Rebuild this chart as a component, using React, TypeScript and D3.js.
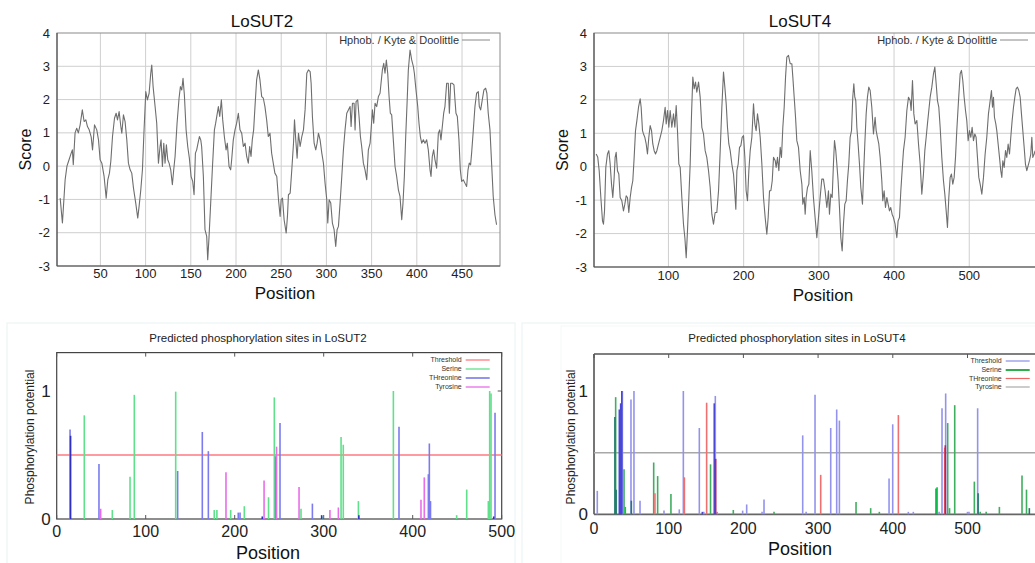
import React from 'react';
import * as d3 from 'd3';

const FONT = '"Liberation Sans", Arial, Helvetica, sans-serif';

// ---------------- Hydrophobicity (Kyte & Doolittle) profiles ----------------
const sut2Hydro: [number, number][] = [
  [5.5,-0.96],[8,-1.71],[11,-0.41],[13,0],[14.7,0.14],[17.7,0.39],[19,0.49],[20,0.04],[22,1.0],[23.8,1.14],[25.6,1.0],[27.6,1.24],[30,1.69],[32,1.34],[33.9,1.39],[35.7,1.19],[37.6,1.09],[39.8,0.88],[41.3,0.49],[43.5,1.24],[46,1.09],[47.9,0.79],[49.7,0.19],[51.6,0.09],[54.1,-0.31],[56.4,-0.96],[58.2,-0.41],[60,-0.21],[61.5,0.14],[63.4,0.89],[65.6,1.44],[67.4,1.59],[68.9,1.39],[70.7,1.64],[72.6,1.19],[73.7,0.99],[75.5,1.54],[77.3,1.34],[79.2,0.79],[81,0.09],[82.9,-0.11],[84.7,-0.21],[86.6,-0.66],[89.1,-1.11],[91.3,-1.56],[92.8,-1.21],[94.7,-0.71],[96.5,-0.11],[98.3,1.09],[100.2,2.24],[102,1.99],[103.9,2.19],[105.7,2.79],[106.8,3.04],[108.3,2.39],[110.5,1.79],[112.3,1.29],[114.2,0.09],[116,0.59],[117.1,0.79],[118.6,-0.01],[120.1,0.69],[121.5,0.09],[123,0.64],[124.5,0.19],[126,0.09],[127.8,-0.11],[129.6,-0.56],[131.1,-0.11],[132.6,0.29],[134.8,1.29],[137,2.04],[138.5,2.39],[140,2.29],[141.4,2.64],[142.9,2.14],[144.8,1.09],[146.6,0.59],[148.4,0.24],[150.3,-0.31],[152.1,-0.46],[153.6,-0.86],[155.1,0.39],[156.5,0.49],[157.6,0.64],[159.5,0.89],[161,0.79],[162,0.59],[163.9,-0.31],[165.7,-1.91],[167.6,-2.11],[168.7,-2.81],[170.2,-2.11],[172,-1.11],[173.8,-0.11],[176.1,1.09],[177.5,1.29],[179,1.54],[180.5,1.79],[182,1.49],[183.8,1.99],[185.3,1.39],[187.1,0.89],[189,0.49],[190.4,0.69],[192.3,-0.01],[194.1,-0.11],[195.2,0.19],[197,0.79],[198.9,1.09],[200.7,1.29],[202.6,1.59],[204.4,1.09],[206.3,0.99],[208.1,0.59],[210,0.69],[211.8,0.29],[213.6,0.09],[215.1,0.59],[216.6,0.29],[218,0.79],[219.5,1.09],[221,1.79],[222.8,2.59],[224.7,2.89],[226.5,2.59],[228.4,2.09],[230.2,2.04],[232,1.79],[233.9,1.39],[235.7,0.89],[237.6,0.99],[239.4,0.39],[241.2,0.09],[243,-0.21],
  [245.1,-0.31],[247,-1.01],[248.8,-1.51],[249.9,-1.01],[251.4,-0.96],[253.2,-1.61],[255.5,-2.01],[256.9,-1.51],[258,-0.86],[259.9,-0.81],[261.7,-0.11],[263.6,0.69],[264.7,1.39],[266.1,0.79],[267.6,0.24],[269.1,0.99],[270.9,0.59],[272.8,0.89],[274.6,1.09],[276.4,1.69],[278.3,2.79],[280.1,2.89],[282,2.84],[283.1,2.49],[284.5,1.49],[286.4,0.69],[288.2,0.49],[289.7,0.69],[291.2,0.99],[293,0.79],[294.9,0.39],[296.7,0.09],[298.5,-0.51],[300.4,-1.01],[301.5,-1.71],[303,-1.01],[304.8,-1.11],[306.6,-1.71],[308.5,-1.91],[310.3,-2.41],[311.8,-1.91],[313.3,-1.81],[315.1,-1.11],[317,-0.31],[318.8,0.49],[320.6,1.09],[322.5,1.59],[324.3,1.69],[326.2,1.79],[327.3,1.19],[328.8,1.89],[330.6,1.89],[331.7,1.09],[332.8,1.94],[334.6,1.99],[336.1,1.49],[337.6,0.89],[339,0.59],[340.9,0.09],[342.7,-0.11],[344.6,-0.41],[346.4,0.49],[348.3,0.69],[349.4,1.09],[350.9,1.69],[352.3,1.29],[353.8,1.89],[355.6,1.79],[357.5,2.09],[359.3,2.19],[360.4,2.49],[361.9,2.89],[363.4,3.09],[364.8,2.79],[366.3,3.19],[367.8,2.79],[369.3,2.09],[370.7,1.59],[372.2,1.54],[374,0.79],[375.9,-0.01],[377.7,-0.31],[379.6,-0.71],[381.4,-0.91],[383.3,-1.61],[384.7,-1.11],[386.2,-0.31],[387.7,0.89],[389.2,1.89],[390.6,2.89],[392.5,3.49],[394.3,3.19],[396.2,2.99],[397.3,2.79],[398.7,2.39],[401,1.79],[402.4,1.29],[403.9,0.89],[405.4,0.69],[407.2,0.79],[409,0.69],[410.9,0.79],[412.7,0.49],[414.6,-0.11],[415.7,-0.31],[417.1,0.29],[418.6,0.49],[420.1,0.19],[421.9,-0.06],[423.8,0.99],[425.3,1.09],[426.7,0.79],[428.2,1.19],[429.7,1.59],[431.1,1.79],[433,2.49],[434.8,2.49],[436,1.59],[437.4,2.49],[439.3,2.49],[441.1,2.44],[442.2,1.99],[443.3,1.59],[444.8,1.49],[446.6,0.79],[448.1,-0.11],[449.6,-0.46],[451.4,-0.41],[453.2,-0.51],[455.1,-0.61],[456.6,-0.11],[458,0.09],[459.5,0.04],[460.6,0.39],[462.5,1.09],[464.3,1.79],[466.1,2.19],[468,2.24],[469.1,1.79],[470.6,1.69],[472.4,1.99],[474.2,2.29],[476.1,2.34],[477.5,2.19],[479,1.59],[480.9,1.09],[482.7,0.09],[484.5,-0.91],[486.4,-1.46],[488.2,-1.76]
];

const sut4Hydro: [number, number][] = [
  [3.9,0.38],[6,0.28],[7.9,-0.12],[10.1,-0.92],[12.3,-1.62],[13.6,-1.72],[15,-1.32],[16.7,-0.02],[18.9,0.38],[20.7,0.48],[22.5,0.08],[24.3,-0.52],[26,-0.92],[27.8,-0.32],[29.1,0.28],[30.5,0.43],[32.2,-0.12],[34,-0.22],[35.8,-0.92],[38,-1.02],[40.2,-1.32],[42,-1.12],[43.8,-0.87],[45.5,-0.92],[47.3,-1.37],[49.1,-0.92],[50.9,-0.62],[52.6,-0.42],[54.4,0.28],[56.2,1.08],[58,1.38],[60.2,1.78],[62.4,2.03],[63.7,1.78],[65.5,1.08],[66.8,0.98],[68.6,0.88],[70.4,0.68],[72.1,0.38],[73.9,0.88],[75.7,1.23],[77.5,1.08],[79.2,0.68],[81,0.48],[82.8,0.38],[84.6,0.48],[86.8,0.68],[89,0.88],[91.2,1.08],[93.4,1.38],[95.6,1.78],[97,1.28],[98.7,1.68],[100.5,1.18],[102.3,1.68],[104.5,1.18],[106.7,1.58],[108.5,1.18],[110.3,1.83],[112,1.08],[113.8,0.08],[115.6,-0.02],[117.8,-0.92],[120,-1.72],[121.8,-2.12],[123.6,-2.72],[125.3,-1.92],[127.1,-0.92],[128.9,0.08],[130.7,1.58],[132.4,2.68],[134.2,2.33],[136,2.53],[137.7,2.23],[140,2.53],[142.2,2.08],[144.4,1.18],[146.6,0.98],[148.8,0.48],[151,0.28],[153.3,-0.12],[155.5,-0.62],[157.7,-1.42],[159.9,-1.72],[162.1,-1.37],[164.3,-1.37],[166.6,-0.72],[168.8,0.48],[171,1.78],[173.2,2.83],[175,2.38],[176.8,1.88],[178.5,1.18],[180.3,0.68],[182.1,0.48],[184.3,0.08],[186.5,-0.22],[187.8,-0.62],[189.6,-1.27],[191,-0.12],[192.7,0.08],[194.5,0.58],[196.3,0.63],[198,0.88],[199.8,0.93],[201.6,0.28],[203.3,-0.72],[205.1,-1.02],[206.9,-0.12],[208.7,0.48],[210.9,0.88],[213.1,1.88],[214.9,1.28],[216.6,1.08],[218.4,1.58],[220.2,1.28],[222,0.88],[224.2,0.08],[226.4,-0.92],[228.6,-1.52],[230.8,-2.02],[232.6,-1.52],[234.4,-0.72],[236.2,-0.72],[238,-0.42],[239.7,0.28],[242,0.18],[243.2,-0.02],[245,0.28],[246.8,-0.12],[248.6,0.58],[250.3,0.28],[252.1,1.18],[253.9,1.78],[255.7,2.68],[257.4,3.28],[259.6,3.33],[261.9,3.08],[264.1,3.08],[265.4,2.68],[267.2,2.08],[269,1.48],[270.7,0.78],[272.9,0.58],[275.2,-0.12],[277.4,-0.52],[278.7,-1.12],[280.5,-0.92],[281.8,-1.42],[283.1,-0.92],[284.9,-0.62],[286.7,-0.52],[288.5,0.48],
  [290.6,-0.12],[292.8,-0.92],[295,-1.52],[297.3,-2.12],[299.5,-1.52],[301.7,-0.92],[303.9,-0.37],[306.1,-0.37],[308.3,-0.72],[310.6,-1.22],[312.8,-0.72],[314.1,-1.42],[315.9,-0.82],[317.7,-0.92],[319.4,0.08],[320.8,0.78],[322.5,0.48],[323.9,0.08],[325.6,-0.42],[327.4,-1.22],[329.2,-2.12],[331,-2.52],[332.7,-1.72],[334.5,-1.12],[336.3,-1.02],[338,-0.42],[339.8,0.08],[341.6,0.88],[343.4,1.08],[345.1,2.08],[346.5,2.48],[347.8,2.08],[349.1,1.98],[350.5,1.18],[352.2,0.68],[354,0.08],[355.8,-0.62],[358,-1.12],[359.3,-0.32],[361.1,0.68],[362.9,1.58],[364.6,2.08],[366.4,2.38],[368.2,2.28],[370.4,1.78],[372.6,0.98],[374.8,1.48],[376.2,1.08],[377.9,0.88],[379.7,0.68],[381.5,0.28],[383.7,-0.42],[385,-1.02],[386.8,-0.72],[388.6,-1.22],[390.4,-0.92],[392.1,-1.12],[393.9,-1.32],[395.6,-1.22],[397.4,-1.42],[399.2,-1.52],[401.4,-1.72],[403.7,-2.12],[405.4,-1.62],[407.2,-1.52],[409,-0.72],[410.7,-0.12],[412.5,0.48],[414.7,0.88],[417,1.68],[419.2,2.08],[421.4,1.98],[422.7,1.68],[424.5,2.58],[426.3,1.58],[428,1.28],[430.3,1.38],[432.5,0.68],[434.7,0.08],[436.9,-0.82],[439.1,-0.22],[440.9,0.48],[442.7,0.88],[444.4,1.28],[446.2,1.68],[448,2.08],[450.2,2.38],[452.4,2.78],[454.2,2.98],[456,2.48],[457.7,1.98],[459.5,1.78],[461.3,1.18],[463.5,0.28],[465.7,-0.42],[467.5,-0.82],[469.3,-1.32],[471,-1.82],[472.8,-0.92],[474.6,-0.32],[476.3,-0.22],[478.1,-0.52],[479.9,-0.32],[481.7,0.28],[483.4,1.08],[485.7,1.98],[487.9,2.78],[489.6,2.88],[491.4,2.58],[493.2,2.08],[495,1.68],[496.7,1.38],[498.5,0.78],[500.3,1.08],[502.1,0.88],[503.8,1.18],[505.6,0.78],[507.4,0.98],[509.1,0.88],[510.9,0.28],[512.7,-0.32],[514.5,-0.52],[516.7,-0.82],[518.9,-0.32],[521.1,0.38],[523.3,0.88],[525.5,1.58],[527.8,1.98],[529.5,2.28],[530.9,1.78],[532.2,2.08],[533.5,1.48],[535.3,1.28],[536.6,1.08],[538.4,0.68],[540.2,0.28],[541.9,-0.12],[543.3,-0.32],[544.6,0.18],[546.4,-0.02],[548.2,0.48],[549.9,0.28],[551.7,0.68],[553.5,0.38],[555.2,0.88],[557,1.38],[558.8,1.78],[560.6,2.08],[562.3,2.33],[564.1,2.38],[565.9,2.28],[567.7,2.08],[569.4,1.58],[571.2,1.08],[573,0.58],[574.7,0.08],[576.5,-0.12],[578.3,0.03],[580.1,0.18],[581.8,0.38],[583.2,0.88],[584.5,0.28],[586.3,0.38],[587.6,0.48]
];

const hydroYTicks = [-3, -2, -1, 0, 1, 2, 3, 4];
const sut2HydroXTicks = [50, 100, 150, 200, 250, 300, 350, 400, 450];
const sut4HydroXTicks = [100, 200, 300, 400, 500];

// ---------------- Phosphorylation potentials (NetPhos) ----------------
const sut2Serine: [number, number][] = [
  [31,0.81],[62.5,0.07],[82.4,0.33],[87.2,0.97],[133.7,0.995],[177,0.07],[180,0.07],[195.5,0.07],[210.8,0.1],[238,0.17],[244.5,0.95],[274.5,0.08],[298,0.02],[319.5,0.64],[322,0.58],[339,0.14],[378.3,1.0],[449.4,0.03],[460.7,0.23],[485,0.14],[486.5,1.0],[488,0.98]
];
const sut2Threonine: [number, number][] = [
  [15,0.70],[47.5,0.43],[135.9,0.375],[163.6,0.68],[170.4,0.53],[204,0.05],[206,0.05],[246,0.49],[250.9,0.75],[287.3,0.12],[384.6,0.72],[417.6,0.35],[418.7,0.59],[420,0.14],[492.5,0.83]
];
const sut2ThreonineDark: [number, number][] = [
  [15.6,0.65],[231,0.02],[297.7,0.03],[339.5,0.03],[491,0.02]
];
const sut2Tyrosine: [number, number][] = [
  [49.4,0.08],[190.2,0.365],[233,0.3],[247,0.565],[272.3,0.25],[307,0.07],[316.5,0.09],[409.3,0.15],[413,0.325]
];
const sut2Threshold = 0.5;

const sut4Lavender: [number, number][] = [
  [4.4,0.19],[38,1.0],[49.5,0.93],[53.5,1.0],[61.6,0.11],[93.7,0.03],[114.2,0.04],[119.6,1.0],[141,0.70],[147,0.02],[162.4,0.96],[165,0.02],[199,0.03],[204.4,0.08],[225,0.02],[227.6,0.12],[279.4,0.64],[284,0.02],[295.9,0.97],[316.9,0.70],[324.9,0.85],[328.5,0.76],[395,0.29],[399.9,0.73],[420.8,0.02],[427.5,0.02],[462,0.02],[465.9,0.86],[470.8,0.98],[500,0.02],[502,0.02],[513.6,0.86]
];
const sut4DarkBlue: [number, number][] = [
  [33.9,0.85],[35.7,0.90],[37.2,1.0],[145,0.02],[161,0.90]
];
const sut4Green: [number, number][] = [
  [29,0.95],[40.2,0.365],[79.9,0.42],[85.2,0.31],[103,0.165],[156,0.405],[186.5,0.035],[241,0.02],[350.8,0.10],[370.4,0.05],[382,0.02],[473.5,0.74],[476,0.05],[482.9,0.885],[509.2,0.265],[517,0.02],[525,0.02],[542.7,0.06],[573,0.315],[579,0.20]
];
const sut4DarkTeal: [number, number][] = [
  [28,0.79],[29.6,0.20],[50,0.11],[458,0.21],[514.2,0.17],[582.8,0.05]
];
const sut4BrightGreen: [number, number][] = [
  [41.9,0.06],[459.3,0.22]
];
const sut4Red: [number, number][] = [
  [81.6,0.17],[121,0.30],[150.8,0.905],[303.5,0.32],[407.5,0.805],[469.5,0.54]
];
const sut4DarkRed: [number, number][] = [
  [162.9,0.45],[470.3,0.56]
];
const sut4Threshold = 0.5;

const phosXTicks = [0, 100, 200, 300, 400, 500];
const phosYTicks = [0, 1];

// ---------------- Components ----------------
type HydroProps = {
  data: [number, number][];
  title: string;
  xDomain: [number, number];
  xRange: [number, number];
  yRange: [number, number];
  xTicks: number[];
  titleX: number;
  scoreX: number;
  positionX: number;
  positionY: number;
  xLabelY: number;
  legendEnd: number;
};

function HydroPanel(p: HydroProps) {
  const x = d3.scaleLinear().domain(p.xDomain).range(p.xRange);
  const y = d3.scaleLinear().domain([-3, 4]).range(p.yRange);
  const line = d3.line<[number, number]>().x(d => x(d[0])).y(d => y(d[1]));
  const [l, r] = p.xRange;
  const [b, t] = p.yRange;
  return (
    <g fontFamily={FONT}>
      {hydroYTicks.slice(1, -1).map(v => (
        <line key={'gy' + v} x1={l} x2={r} y1={y(v)} y2={y(v)} stroke="#cfcfcf" strokeWidth={1} />
      ))}
      {p.xTicks.map(v => (
        <line key={'gx' + v} x1={x(v)} x2={x(v)} y1={t} y2={b} stroke="#cfcfcf" strokeWidth={1} />
      ))}
      <rect x={l} y={t} width={r - l} height={b - t} fill="none" stroke="#8a8a8a" strokeWidth={1} />
      <line x1={l} x2={l} y1={t} y2={b} stroke="#555" strokeWidth={1.2} />
      <line x1={l} x2={r} y1={b} y2={b} stroke="#555" strokeWidth={1.2} />
      <path d={line(p.data) || ''} fill="none" stroke="#6e6e6e" strokeWidth={1.1} strokeLinejoin="round" />
      {hydroYTicks.map(v => (
        <text key={'ty' + v} x={l - 7} y={y(v)} dy="0.35em" textAnchor="end" fontSize={13} fill="#222">{v}</text>
      ))}
      {p.xTicks.map(v => (
        <text key={'tx' + v} x={x(v)} y={p.xLabelY} dy="0.35em" textAnchor="middle" fontSize={13} fill="#222">{v}</text>
      ))}
      <text x={p.titleX} y={27} textAnchor="middle" fontSize={17} fill="#111">{p.title}</text>
      <text transform={`translate(${p.scoreX},${(t + b) / 2}) rotate(-90)`} dy="0.35em" textAnchor="middle" fontSize={16} fill="#111">Score</text>
      <text x={p.positionX} y={p.positionY} dy="0.35em" textAnchor="middle" fontSize={17} fill="#111">Position</text>
      <text x={p.legendEnd} y={t + 7.5} dy="0.35em" textAnchor="end" fontSize={11} fill="#333">Hphob. / Kyte &amp; Doolittle</text>
      <line x1={p.legendEnd + 3} x2={p.legendEnd + 31} y1={t + 7} y2={t + 7} stroke="#888" strokeWidth={1} />
    </g>
  );
}

type BarSeries = { data: [number, number][]; color: string; width?: number };

type PhosProps = {
  title: string;
  titleX: number;
  xDomain: [number, number];
  xRange: [number, number];
  yRange: [number, number];
  series: BarSeries[];
  threshold: number;
  thresholdColor: string;
  legend: { label: string; color: string; width: number }[];
  legendEnd: number;
  legendY: number[];
  ylabX: number;
  tickLabelY: number;
  positionX: number;
  positionY: number;
  fullFrame: boolean;
};

function PhosPanel(p: PhosProps) {
  const x = d3.scaleLinear().domain(p.xDomain).range(p.xRange);
  const y = d3.scaleLinear().domain([0, 1.3]).range(p.yRange);
  const [l, r] = p.xRange;
  const [b, t] = p.yRange;
  return (
    <g fontFamily={FONT}>
      {p.fullFrame ? (
        <rect x={l} y={t} width={r - l} height={b - t} fill="none" stroke="#444" strokeWidth={1.2} />
      ) : (
        <g>
          <line x1={l} x2={r} y1={t} y2={t} stroke="#555" strokeWidth={1.5} />
          <line x1={l} x2={l} y1={t} y2={b} stroke="#666" strokeWidth={1.8} />
          <line x1={l} x2={r} y1={b} y2={b} stroke="#666" strokeWidth={1.8} />
        </g>
      )}
      {phosXTicks.map(v => (
        <g key={'xt' + v}>
          <line x1={x(v)} x2={x(v)} y1={t} y2={t + 4} stroke="#555" strokeWidth={1} />
          {p.fullFrame && <line x1={x(v)} x2={x(v)} y1={b} y2={b - 4} stroke="#555" strokeWidth={1} />}
        </g>
      ))}
      {p.fullFrame && (
        <line x1={r} x2={r - 4} y1={y(1)} y2={y(1)} stroke="#555" strokeWidth={1} />
      )}
      <line x1={l} x2={r} y1={y(p.threshold)} y2={y(p.threshold)} stroke={p.thresholdColor} strokeWidth={1.5} />
      {p.series.map((s, i) => (
        <g key={'s' + i}>
          {s.data.map((d, j) => (
            <line key={j} x1={x(d[0])} x2={x(d[0])} y1={y(0)} y2={y(d[1])} stroke={s.color} strokeWidth={s.width ?? 1.6} />
          ))}
        </g>
      ))}
      {phosYTicks.map(v => (
        <text key={'yl' + v} x={l - 6} y={y(v)} dy="0.35em" textAnchor="end" fontSize={17} fill="#222">{v}</text>
      ))}
      {phosXTicks.map(v => (
        <text key={'xl' + v} x={x(v)} y={p.tickLabelY} dy="0.35em" textAnchor="middle" fontSize={16} fill="#222">{v}</text>
      ))}
      <text x={p.titleX} y={342} textAnchor="middle" fontSize={11.5} fill="#222">{p.title}</text>
      <text transform={`translate(${p.ylabX},437) rotate(-90)`} dy="0.35em" textAnchor="middle" fontSize={12} fill="#222">Phosphorylation potential</text>
      <text x={p.positionX} y={p.positionY} dy="0.35em" textAnchor="middle" fontSize={18} fill="#111">Position</text>
      {p.legend.map((e, i) => (
        <g key={'lg' + i}>
          <text x={p.legendEnd} y={p.legendY[i]} dy="0.35em" textAnchor="end" fontSize={7} fill="#333">{e.label}</text>
          <line x1={p.legendEnd + 4} x2={p.legendEnd + 28} y1={p.legendY[i]} y2={p.legendY[i]} stroke={e.color} strokeWidth={e.width} />
        </g>
      ))}
    </g>
  );
}

export default function App() {
  return (
    <svg width={1035} height={563} style={{ position: 'fixed', left: 0, top: 0, background: '#fff' }}>
      <rect x={0} y={0} width={1035} height={563} fill="#fff" />
      {/* faint panel outlines of the lower figures */}
      <rect x={7} y={323} width={508} height={250} fill="none" stroke="#f0f7f7" strokeWidth={1.5} />
      <rect x={522} y={323} width={520} height={250} fill="none" stroke="#f0f7f7" strokeWidth={1.5} />
      <rect x={561} y={326} width={480} height={245} fill="none" stroke="#f5f8f8" strokeWidth={1} />

      <HydroPanel
        data={sut2Hydro}
        title="LoSUT2"
        xDomain={[2, 492]}
        xRange={[57, 500]}
        yRange={[266, 33]}
        xTicks={sut2HydroXTicks}
        titleX={262}
        scoreX={25}
        positionX={285}
        positionY={293}
        xLabelY={273}
        legendEnd={459}
      />
      <HydroPanel
        data={sut4Hydro}
        title="LoSUT4"
        xDomain={[1, 591]}
        xRange={[594, 1037.7]}
        yRange={[267, 33]}
        xTicks={sut4HydroXTicks}
        titleX={800}
        scoreX={562}
        positionX={823}
        positionY={295}
        xLabelY={275}
        legendEnd={997}
      />

      <PhosPanel
        title="Predicted phosphorylation sites in LoSUT2"
        titleX={258}
        xDomain={[0, 500]}
        xRange={[56.7, 501.7]}
        yRange={[519, 352.6]}
        series={[
          { data: sut2Serine, color: '#5fe08a' },
          { data: sut2Threonine, color: '#7b7bef' },
          { data: sut2ThreonineDark, color: '#2f2fc8' },
          { data: sut2Tyrosine, color: '#ea6cea' },
        ]}
        threshold={sut2Threshold}
        thresholdColor="#ff7a80"
        legend={[
          { label: 'Threshold', color: '#ff7a80', width: 1.3 },
          { label: 'Serine', color: '#5fe08a', width: 1.3 },
          { label: 'THreonine', color: '#5a5ae6', width: 1.3 },
          { label: 'Tyrosine', color: '#ea6cea', width: 1.3 },
        ]}
        legendEnd={461.7}
        legendY={[360, 369, 378, 387]}
        ylabX={30}
        tickLabelY={531.5}
        positionX={268}
        positionY={553}
        fullFrame={true}
      />
      <PhosPanel
        title="Predicted phosphorylation sites in LoSUT4"
        titleX={797}
        xDomain={[0, 594]}
        xRange={[594, 1037.7]}
        yRange={[514.3, 354]}
        series={[
          { data: sut4Lavender, color: '#9393ee' },
          { data: sut4Green, color: '#3fae5e' },
          { data: sut4DarkTeal, color: '#1f7a6a' },
          { data: sut4BrightGreen, color: '#00d03a' },
          { data: sut4DarkBlue, color: '#4848d4' },
          { data: sut4Red, color: '#f07070' },
          { data: sut4DarkRed, color: '#c02050' },
        ]}
        threshold={sut4Threshold}
        thresholdColor="#a8a8a8"
        legend={[
          { label: 'Threshold', color: '#8c8cec', width: 1.2 },
          { label: 'Serine', color: '#2fae4e', width: 2 },
          { label: 'THreonine', color: '#ee6666', width: 1.2 },
          { label: 'Tyrosine', color: '#aaaaaa', width: 1.2 },
        ]}
        legendEnd={1001.7}
        legendY={[361, 370, 378.5, 387]}
        ylabX={571}
        tickLabelY={528.3}
        positionX={800}
        positionY={548.5}
        fullFrame={false}
      />
    </svg>
  );
}
